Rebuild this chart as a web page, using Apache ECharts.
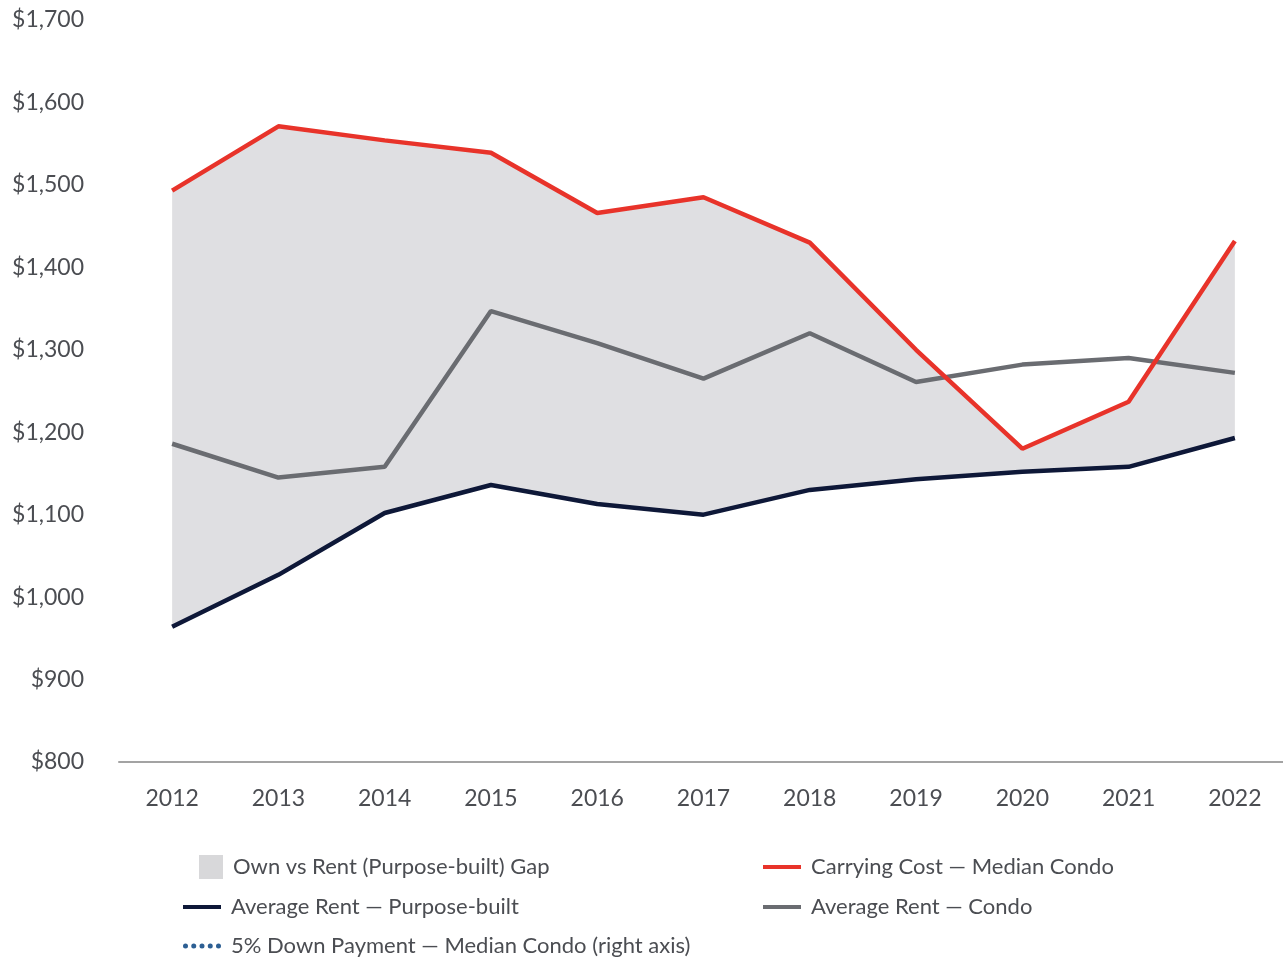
<!DOCTYPE html>
<html>
<head>
<meta charset="utf-8">
<script src="https://cdn.jsdelivr.net/npm/echarts@6/dist/echarts.min.js"></script>
<style>
  html, body { margin: 0; padding: 0; background: #fff; }
  #main { width: 1283px; height: 961px; }
</style>
</head>
<body>
<div id="main"></div>
<script>
var years = ['2012', '2013', '2014', '2015', '2016', '2017', '2018', '2019', '2020', '2021', '2022'];
var carryingCost = [1493, 1571, 1554, 1539, 1466, 1485, 1430, 1300, 1180, 1237, 1432];
var rentCondo = [1186, 1145, 1158, 1347, 1308, 1265, 1320, 1261, 1282, 1290, 1272];
var rentPurpose = [964, 1027, 1102, 1136, 1113, 1100, 1130, 1143, 1152, 1158, 1193];
// right-axis series has no visible points in the picture
var downPayment = [null, null, null, null, null, null, null, null, null, null, null];

var gap = carryingCost.map(function (v, i) { return v - rentPurpose[i]; });

var txt = '#4b4d52';
var font = 'Lato, "Open Sans", sans-serif';
var legendText = { color: txt, fontSize: 22, lineHeight: 24, fontFamily: font, padding: [0, 0, 0, 5] };
var dots = 'path://M0,2.5a2.5,2.5 0 1,0 5,0a2.5,2.5 0 1,0 -5,0z' +
    'M8.25,2.5a2.5,2.5 0 1,0 5,0a2.5,2.5 0 1,0 -5,0z' +
    'M16.5,2.5a2.5,2.5 0 1,0 5,0a2.5,2.5 0 1,0 -5,0z' +
    'M24.75,2.5a2.5,2.5 0 1,0 5,0a2.5,2.5 0 1,0 -5,0z' +
    'M33,2.5a2.5,2.5 0 1,0 5,0a2.5,2.5 0 1,0 -5,0z';

function lineLegend(name, left, top, icon, h) {
    return {
        data: [{ name: name, icon: icon || 'rect' }],
        left: left, top: top, padding: 0,
        itemWidth: 38, itemHeight: h || 4,
        textStyle: legendText
    };
}

var chart = echarts.init(document.getElementById('main'));
chart.setOption({
    animation: false,
    textStyle: { fontFamily: font },
    grid: { left: 119, width: 1169, top: 20, bottom: 199, outerBoundsMode: 'none' },
    legend: [{
        data: [{ name: 'Own vs Rent (Purpose-built) Gap', icon: 'rect' }],
        left: 199, top: 855, padding: 0,
        itemWidth: 24, itemHeight: 24,
        textStyle: legendText
    },
        lineLegend('Average Rent — Purpose-built', 183, 895),
        lineLegend('5% Down Payment — Median Condo (right axis)', 183, 934, dots, 5),
        lineLegend('Carrying Cost — Median Condo', 763, 855),
        lineLegend('Average Rent — Condo', 763, 895)
    ],
    xAxis: {
        type: 'category',
        data: years,
        boundaryGap: true,
        axisLine: { lineStyle: { color: '#a3a3a3', width: 2 } },
        axisTick: { show: false },
        axisLabel: { color: txt, fontSize: 23, margin: 25, fontFamily: font }
    },
    yAxis: [{
        type: 'value',
        min: 800, max: 1700, interval: 100,
        axisLine: { show: false },
        axisTick: { show: false },
        splitLine: { show: false },
        axisLabel: {
            color: txt, fontSize: 23, margin: 35, fontFamily: font,
            formatter: function (v) { return '$' + v.toLocaleString('en-US'); }
        }
    }, {
        type: 'value',
        show: false
    }],
    series: [{
        name: 'base',
        type: 'line',
        stack: 'gap',
        data: rentPurpose,
        symbol: 'none',
        lineStyle: { width: 0, opacity: 0 },
        silent: true,
        z: 1
    }, {
        name: 'Own vs Rent (Purpose-built) Gap',
        type: 'line',
        stack: 'gap',
        data: gap,
        symbol: 'none',
        lineStyle: { width: 0, opacity: 0 },
        itemStyle: { color: '#d8d8da' },
        areaStyle: { color: '#dfdfe2', opacity: 1 },
        z: 1
    }, {
        name: 'Average Rent — Purpose-built',
        type: 'line',
        data: rentPurpose,
        symbol: 'none',
        itemStyle: { color: '#0e1838' },
        lineStyle: { color: '#0e1838', width: 4.5 },
        z: 3
    }, {
        name: 'Average Rent — Condo',
        type: 'line',
        data: rentCondo,
        symbol: 'none',
        itemStyle: { color: '#6a6c71' },
        lineStyle: { color: '#6a6c71', width: 4.5 },
        z: 3
    }, {
        name: 'Carrying Cost — Median Condo',
        type: 'line',
        data: carryingCost,
        symbol: 'none',
        itemStyle: { color: '#e8332a' },
        lineStyle: { color: '#e8332a', width: 4.5 },
        z: 4
    }, {
        name: '5% Down Payment — Median Condo (right axis)',
        type: 'line',
        yAxisIndex: 1,
        data: downPayment,
        symbol: 'none',
        itemStyle: { color: '#2d5f93' },
        lineStyle: { color: '#2d5f93', width: 4, type: [0.5, 8], cap: 'round' },
        z: 3
    }]
});
</script>
</body>
</html>
